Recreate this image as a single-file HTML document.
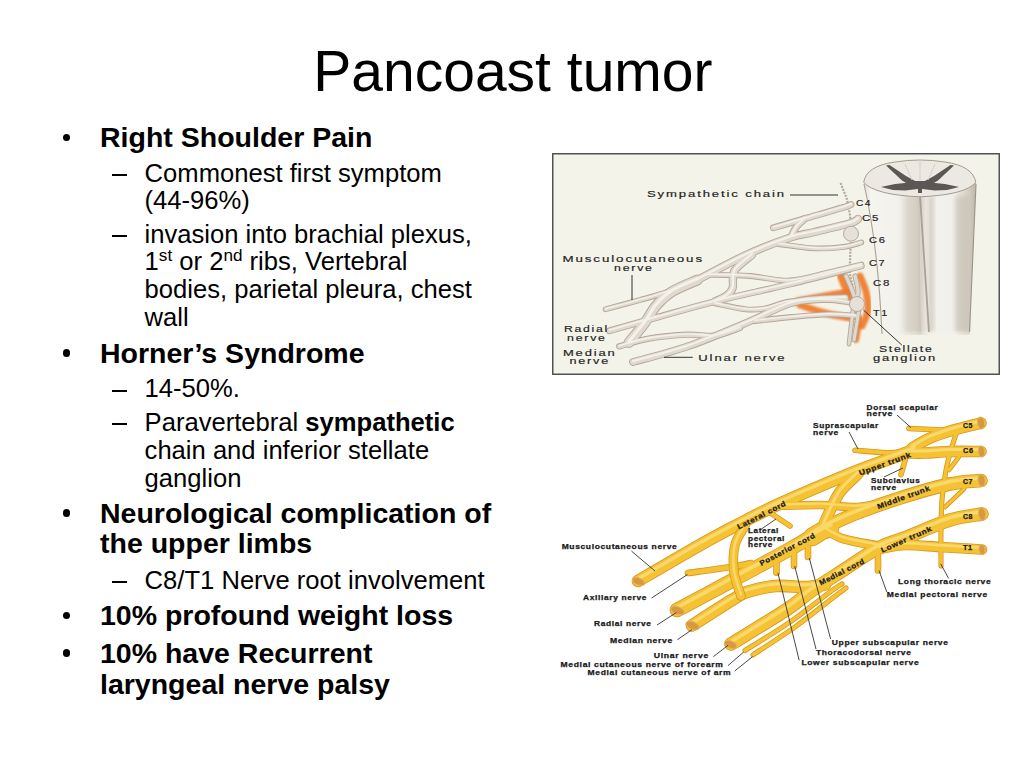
<!DOCTYPE html>
<html><head><meta charset="utf-8">
<title>Pancoast tumor</title>
<style>
html,body{margin:0;padding:0;background:#fff;}
body{width:1024px;height:768px;position:relative;overflow:hidden;font-family:"Liberation Sans",sans-serif;color:#000;}
.t{position:absolute;white-space:nowrap;line-height:1;}
.title{font-size:57px;}
.b1{font-size:28.5px;font-weight:bold;}
.b2{font-size:25.6px;}
.dot{position:absolute;left:62.8px;width:7.4px;height:7.4px;border-radius:50%;background:#000;}
.dash{position:absolute;left:112.3px;width:14.8px;height:2px;background:#000;}
sup{font-size:67%;vertical-align:0;position:relative;top:-0.52em;line-height:0;}
svg{position:absolute;left:0;top:0;}
svg text{font-family:"Liberation Sans",sans-serif;}
.l2 text{font-weight:bold;}
</style></head><body>
<div class="t title" style="left:313.3px;top:42.74px;">Pancoast tumor</div>
<div class="t b1" style="left:100.0px;top:122.87px;">Right Shoulder Pain</div>
<div class="dot" style="top:133.60px;"></div>
<div class="t b2" style="left:144.6px;top:160.62px;">Commonest first symptom</div>
<div class="dash" style="top:174.00px;"></div>
<div class="t b2" style="left:144.6px;top:187.62px;">(44-96%)</div>
<div class="t b2" style="left:144.6px;top:221.82px;">invasion into brachial plexus,</div>
<div class="dash" style="top:235.20px;"></div>
<div class="t b2" style="left:144.6px;top:249.32px;">1<sup>st</sup> or 2<sup>nd</sup> ribs, Vertebral</div>
<div class="t b2" style="left:144.6px;top:277.12px;">bodies, parietal pleura, chest</div>
<div class="t b2" style="left:144.6px;top:304.72px;">wall</div>
<div class="t b1" style="left:100.0px;top:338.67px;">Horner’s Syndrome</div>
<div class="dot" style="top:349.40px;"></div>
<div class="t b2" style="left:144.6px;top:376.32px;">14-50%.</div>
<div class="dash" style="top:389.70px;"></div>
<div class="t b2" style="left:144.6px;top:409.92px;">Paravertebral <b>sympathetic</b></div>
<div class="dash" style="top:423.30px;"></div>
<div class="t b2" style="left:144.6px;top:437.87px;">chain and inferior stellate</div>
<div class="t b2" style="left:144.6px;top:466.02px;">ganglion</div>
<div class="t b1" style="left:100.0px;top:498.67px;">Neurological complication of</div>
<div class="dot" style="top:509.40px;"></div>
<div class="t b1" style="left:100.0px;top:529.37px;">the upper limbs</div>
<div class="t b2" style="left:144.6px;top:567.82px;">C8/T1 Nerve root involvement</div>
<div class="dash" style="top:581.20px;"></div>
<div class="t b1" style="left:100.0px;top:601.37px;">10% profound weight loss</div>
<div class="dot" style="top:612.10px;"></div>
<div class="t b1" style="left:100.0px;top:638.67px;">10% have Recurrent</div>
<div class="dot" style="top:649.40px;"></div>
<div class="t b1" style="left:100.0px;top:669.77px;">laryngeal nerve palsy</div>
<svg width="1024" height="768" viewBox="0 0 1024 768">
<defs>
<linearGradient id="cordL" x1="0" x2="1" y1="0" y2="0">
<stop offset="0" stop-color="#e4dfd5"/><stop offset="0.12" stop-color="#f6f4ef"/><stop offset="0.6" stop-color="#f3f1ec"/><stop offset="0.88" stop-color="#dcd6cb"/><stop offset="1" stop-color="#c9c2b6"/>
</linearGradient>
<linearGradient id="cordR" x1="0" x2="1" y1="0" y2="0">
<stop offset="0" stop-color="#d2cbbf"/><stop offset="0.15" stop-color="#f4f2ed"/><stop offset="0.62" stop-color="#f1efea"/><stop offset="0.86" stop-color="#d6cfc3"/><stop offset="1" stop-color="#bdb6aa"/>
</linearGradient>
<linearGradient id="fadeB" x1="0" x2="0" y1="0" y2="1">
<stop offset="0.75" stop-color="#f3f3e9" stop-opacity="0"/><stop offset="1" stop-color="#f3f3e9" stop-opacity="1"/>
</linearGradient>
<filter id="blur2" x="-20%" y="-20%" width="140%" height="140%"><feGaussianBlur stdDeviation="2.2"/></filter>
<filter id="blur15" x="-30%" y="-30%" width="160%" height="160%"><feGaussianBlur stdDeviation="1.3"/></filter>
<filter id="blur1"><feGaussianBlur stdDeviation="0.6"/></filter>
</defs>
<!-- image 1 frame -->
<rect x="552.75" y="153.75" width="446.5" height="220.5" fill="#f3f3e9" stroke="#484848" stroke-width="1.4"/>
<!-- spinal cord -->
<g>
<path d="M864,182 Q878,245 882,335 L921,335 L920,196 Q890,194 864,182 Z" fill="url(#cordL)"/>
<path d="M920,196 L921,335 L969.5,335 L976,182 Q950,194 920,196 Z" fill="url(#cordR)"/>
<rect x="905" y="196" width="12" height="136" fill="#cfc9bd" opacity="0.45" filter="url(#blur2)"/>
<rect x="928" y="196" width="6" height="136" fill="#b9b2a5" opacity="0.5" filter="url(#blur2)"/>
<rect x="955" y="196" width="14" height="136" fill="#c2bbae" opacity="0.55" filter="url(#blur2)"/>
<rect x="862" y="300" width="118" height="40" fill="url(#fadeB)"/>
<path d="M864,184 Q878,245 882,334" stroke="#a8a094" stroke-width="1.1" fill="none"/>
<path d="M976,184 L969.5,332" stroke="#9a9388" stroke-width="1.1" fill="none"/>
<path d="M920,196 L929,332" stroke="#a8a196" stroke-width="1.8" fill="none" filter="url(#blur1)"/>
<path d="M863.7,182.4 Q866,166 895,162 Q920,158 945,162 Q973,166 975.8,182.4 Q965,195 920,196.8 Q875,195 863.7,182.4 Z" fill="#ece9e3" stroke="#a39b90" stroke-width="1"/>
<g fill="#5c5754" filter="url(#blur1)">
<path d="M886,165.5 L889.5,165 L906,176 L917,182 L912,186.5 L902,180.5 Z"/>
<path d="M881,187 L895,184 L910,182.5 L917,183 L918,189 L905,190.5 L893,190 Z"/>
<path d="M954,165.5 L950.5,165 L934,176 L923,182 L928,186.5 L938,180.5 Z"/>
<path d="M959,187 L945,184 L930,182.5 L923,183 L922,189 L935,190.5 L947,190 Z"/>
<path d="M912,181 L928,181 L923,188 L917,188 Z"/>
<rect x="918" y="183" width="4" height="10"/>
</g>
<path d="M905,164 L912,180 M920,160 L920,180 M935,164 L928,180" stroke="#d6d0c6" stroke-width="1" fill="none"/>
</g>
<!-- sympathetic chain -->
<path d="M840.5,183 L846.6,198 L850,215 L851,234 L849.6,273 L857,304 L849.6,341" stroke="#b3a99e" stroke-width="2.2" fill="none" stroke-dasharray="2 1.2"/>
<path d="M798.0,301.0 C802.5,300.2 816.7,297.5 825.0,296.0 C833.3,294.5 844.2,292.7 848.0,292.0" stroke="#f07828" stroke-width="7.0" fill="none" stroke-linecap="round" opacity="0.9" filter="url(#blur15)"/>
<path d="M800.0,305.0 C804.2,306.3 816.7,310.8 825.0,313.0 C833.3,315.2 845.8,317.2 850.0,318.0" stroke="#f07828" stroke-width="7.0" fill="none" stroke-linecap="round" opacity="0.9" filter="url(#blur15)"/>
<path d="M841.0,276.0 C841.8,278.0 844.2,284.0 846.0,288.0 C847.8,292.0 851.0,298.0 852.0,300.0" stroke="#f07828" stroke-width="8.0" fill="none" stroke-linecap="round" opacity="0.9" filter="url(#blur15)"/>
<path d="M860.0,276.0 C861.0,278.7 864.7,286.3 866.0,292.0 C867.3,297.7 868.7,304.3 868.0,310.0 C867.3,315.7 863.0,323.3 862.0,326.0" stroke="#f07828" stroke-width="7.0" fill="none" stroke-linecap="round" opacity="0.9" filter="url(#blur15)"/>
<path d="M845.0,316.0 L845.0,342.0" stroke="#f07828" stroke-width="8.0" fill="none" stroke-linecap="round" opacity="0.9" filter="url(#blur15)"/>
<path d="M860.0,318.0 L856.0,340.0" stroke="#f07828" stroke-width="6.0" fill="none" stroke-linecap="round" opacity="0.9" filter="url(#blur15)"/>
<path d="M773.4,227.8 C779.2,226.1 796.8,221.0 808.5,217.6 C820.2,214.2 836.6,209.5 843.7,207.3 C850.8,205.1 849.8,205.0 851.0,204.5" stroke="#b3a697" stroke-width="6.8" fill="none" stroke-linecap="round" stroke-linejoin="round"/>
<path d="M805.0,218.5 C803.6,219.8 799.1,223.4 796.8,226.4 C794.5,229.4 792.0,234.9 791.0,236.6" stroke="#b3a697" stroke-width="7.3" fill="none" stroke-linecap="round" stroke-linejoin="round"/>
<path d="M605.6,309.3 C611.3,307.8 629.6,302.9 640.0,300.0 C650.4,297.1 658.5,295.0 668.0,291.7 C677.5,288.4 692.2,281.9 697.0,280.0" stroke="#b3a697" stroke-width="5.8" fill="none" stroke-linecap="round" stroke-linejoin="round"/>
<path d="M697.4,280.0 C705.5,275.8 730.6,262.1 746.0,255.0 C761.4,247.9 778.6,241.4 790.0,237.6 C801.4,233.8 804.5,234.4 814.4,232.0 C824.3,229.6 842.3,225.6 849.6,223.4 C856.9,221.2 856.6,219.7 858.0,219.0" stroke="#b3a697" stroke-width="8.3" fill="none" stroke-linecap="round" stroke-linejoin="round"/>
<path d="M779.0,244.0 C784.9,244.7 803.6,247.8 814.4,248.3 C825.2,248.8 835.9,247.9 843.7,246.9 C851.5,245.9 858.4,243.2 861.3,242.5" stroke="#b3a697" stroke-width="5.8" fill="none" stroke-linecap="round" stroke-linejoin="round"/>
<path d="M707.0,274.7 C714.2,274.9 736.2,275.0 750.0,276.0 C763.8,277.0 776.7,281.2 790.0,280.5 C803.3,279.8 818.1,274.7 830.0,272.0 C841.9,269.3 856.1,265.8 861.3,264.5" stroke="#b3a697" stroke-width="5.8" fill="none" stroke-linecap="round" stroke-linejoin="round"/>
<path d="M609.5,330.8 C617.6,328.5 640.8,321.9 658.4,317.0 C676.0,312.1 693.1,307.0 715.0,301.5 C736.9,296.0 765.6,289.9 790.0,284.0 C814.4,278.1 849.4,269.0 861.3,266.0" stroke="#b3a697" stroke-width="6.8" fill="none" stroke-linecap="round" stroke-linejoin="round"/>
<path d="M715.0,303.4 C720.2,304.4 737.5,308.5 746.0,309.3 C754.5,310.1 758.5,309.6 765.8,308.3 C773.1,307.0 779.3,302.9 790.0,301.5 C800.7,300.1 818.8,299.6 830.0,300.0 C841.2,300.4 852.5,303.3 857.0,304.0" stroke="#b3a697" stroke-width="5.8" fill="none" stroke-linecap="round" stroke-linejoin="round"/>
<path d="M619.3,346.4 C624.2,345.1 637.2,340.6 648.6,338.6 C660.0,336.7 676.6,335.2 687.7,334.7 C698.8,334.2 706.3,336.8 715.0,335.7 C723.7,334.6 735.8,329.3 740.0,328.0" stroke="#b3a697" stroke-width="6.3" fill="none" stroke-linecap="round" stroke-linejoin="round"/>
<path d="M633.0,362.0 C642.1,359.4 668.9,352.9 687.7,346.4 C706.5,339.9 729.0,330.2 746.0,323.0 C763.0,315.8 777.7,307.4 790.0,303.4 C802.3,299.4 810.8,299.9 820.0,299.0 C829.2,298.1 840.8,298.2 845.0,298.0" stroke="#b3a697" stroke-width="7.8" fill="none" stroke-linecap="round" stroke-linejoin="round"/>
<path d="M755.0,321.0 C761.2,320.3 779.7,318.1 792.0,317.0 C804.3,315.9 818.4,314.5 829.0,314.3 C839.6,314.1 851.0,315.5 855.4,315.7" stroke="#b3a697" stroke-width="5.8" fill="none" stroke-linecap="round" stroke-linejoin="round"/>
<path d="M752.0,255.0 C749.1,257.6 737.7,265.3 734.5,270.8 C731.3,276.3 733.9,283.9 732.6,288.0 C731.3,292.1 729.6,293.4 726.7,295.6 C723.8,297.9 717.0,300.5 715.0,301.5" stroke="#b3a697" stroke-width="8.3" fill="none" stroke-linecap="round" stroke-linejoin="round"/>
<path d="M629.0,342.5 C631.6,339.2 640.1,329.2 644.7,323.0 C649.3,316.8 651.9,310.6 656.4,305.4 C660.9,300.2 665.2,295.9 672.0,291.7 C678.8,287.5 693.2,281.9 697.4,280.0" stroke="#b3a697" stroke-width="10.8" fill="none" stroke-linecap="round" stroke-linejoin="round"/>
<path d="M846.0,276.0 C847.0,278.3 850.2,285.3 852.0,290.0 C853.8,294.7 856.2,301.7 857.0,304.0" stroke="#b3a697" stroke-width="5.3" fill="none" stroke-linecap="round" stroke-linejoin="round"/>
<path d="M855.0,276.0 C855.5,278.3 857.7,286.0 858.0,290.0 C858.3,294.0 857.2,298.3 857.0,300.0" stroke="#b3a697" stroke-width="5.3" fill="none" stroke-linecap="round" stroke-linejoin="round"/>
<path d="M853.0,310.0 L849.0,344.0" stroke="#b3a697" stroke-width="4.8" fill="none" stroke-linecap="round" stroke-linejoin="round"/>
<path d="M859.0,310.0 L854.0,340.0" stroke="#b3a697" stroke-width="4.8" fill="none" stroke-linecap="round" stroke-linejoin="round"/>
<path d="M773.4,227.8 C779.2,226.1 796.8,221.0 808.5,217.6 C820.2,214.2 836.6,209.5 843.7,207.3 C850.8,205.1 849.8,205.0 851.0,204.5" stroke="#e0d9cf" stroke-width="5.0" fill="none" stroke-linecap="round" stroke-linejoin="round"/>
<path d="M805.0,218.5 C803.6,219.8 799.1,223.4 796.8,226.4 C794.5,229.4 792.0,234.9 791.0,236.6" stroke="#e0d9cf" stroke-width="5.5" fill="none" stroke-linecap="round" stroke-linejoin="round"/>
<path d="M605.6,309.3 C611.3,307.8 629.6,302.9 640.0,300.0 C650.4,297.1 658.5,295.0 668.0,291.7 C677.5,288.4 692.2,281.9 697.0,280.0" stroke="#e0d9cf" stroke-width="4.0" fill="none" stroke-linecap="round" stroke-linejoin="round"/>
<path d="M697.4,280.0 C705.5,275.8 730.6,262.1 746.0,255.0 C761.4,247.9 778.6,241.4 790.0,237.6 C801.4,233.8 804.5,234.4 814.4,232.0 C824.3,229.6 842.3,225.6 849.6,223.4 C856.9,221.2 856.6,219.7 858.0,219.0" stroke="#e0d9cf" stroke-width="6.5" fill="none" stroke-linecap="round" stroke-linejoin="round"/>
<path d="M779.0,244.0 C784.9,244.7 803.6,247.8 814.4,248.3 C825.2,248.8 835.9,247.9 843.7,246.9 C851.5,245.9 858.4,243.2 861.3,242.5" stroke="#e0d9cf" stroke-width="4.0" fill="none" stroke-linecap="round" stroke-linejoin="round"/>
<path d="M707.0,274.7 C714.2,274.9 736.2,275.0 750.0,276.0 C763.8,277.0 776.7,281.2 790.0,280.5 C803.3,279.8 818.1,274.7 830.0,272.0 C841.9,269.3 856.1,265.8 861.3,264.5" stroke="#e0d9cf" stroke-width="4.0" fill="none" stroke-linecap="round" stroke-linejoin="round"/>
<path d="M609.5,330.8 C617.6,328.5 640.8,321.9 658.4,317.0 C676.0,312.1 693.1,307.0 715.0,301.5 C736.9,296.0 765.6,289.9 790.0,284.0 C814.4,278.1 849.4,269.0 861.3,266.0" stroke="#e0d9cf" stroke-width="5.0" fill="none" stroke-linecap="round" stroke-linejoin="round"/>
<path d="M715.0,303.4 C720.2,304.4 737.5,308.5 746.0,309.3 C754.5,310.1 758.5,309.6 765.8,308.3 C773.1,307.0 779.3,302.9 790.0,301.5 C800.7,300.1 818.8,299.6 830.0,300.0 C841.2,300.4 852.5,303.3 857.0,304.0" stroke="#e0d9cf" stroke-width="4.0" fill="none" stroke-linecap="round" stroke-linejoin="round"/>
<path d="M619.3,346.4 C624.2,345.1 637.2,340.6 648.6,338.6 C660.0,336.7 676.6,335.2 687.7,334.7 C698.8,334.2 706.3,336.8 715.0,335.7 C723.7,334.6 735.8,329.3 740.0,328.0" stroke="#e0d9cf" stroke-width="4.5" fill="none" stroke-linecap="round" stroke-linejoin="round"/>
<path d="M633.0,362.0 C642.1,359.4 668.9,352.9 687.7,346.4 C706.5,339.9 729.0,330.2 746.0,323.0 C763.0,315.8 777.7,307.4 790.0,303.4 C802.3,299.4 810.8,299.9 820.0,299.0 C829.2,298.1 840.8,298.2 845.0,298.0" stroke="#e0d9cf" stroke-width="6.0" fill="none" stroke-linecap="round" stroke-linejoin="round"/>
<path d="M755.0,321.0 C761.2,320.3 779.7,318.1 792.0,317.0 C804.3,315.9 818.4,314.5 829.0,314.3 C839.6,314.1 851.0,315.5 855.4,315.7" stroke="#e0d9cf" stroke-width="4.0" fill="none" stroke-linecap="round" stroke-linejoin="round"/>
<path d="M752.0,255.0 C749.1,257.6 737.7,265.3 734.5,270.8 C731.3,276.3 733.9,283.9 732.6,288.0 C731.3,292.1 729.6,293.4 726.7,295.6 C723.8,297.9 717.0,300.5 715.0,301.5" stroke="#e0d9cf" stroke-width="6.5" fill="none" stroke-linecap="round" stroke-linejoin="round"/>
<path d="M629.0,342.5 C631.6,339.2 640.1,329.2 644.7,323.0 C649.3,316.8 651.9,310.6 656.4,305.4 C660.9,300.2 665.2,295.9 672.0,291.7 C678.8,287.5 693.2,281.9 697.4,280.0" stroke="#e0d9cf" stroke-width="9.0" fill="none" stroke-linecap="round" stroke-linejoin="round"/>
<path d="M846.0,276.0 C847.0,278.3 850.2,285.3 852.0,290.0 C853.8,294.7 856.2,301.7 857.0,304.0" stroke="#e0d9cf" stroke-width="3.5" fill="none" stroke-linecap="round" stroke-linejoin="round"/>
<path d="M855.0,276.0 C855.5,278.3 857.7,286.0 858.0,290.0 C858.3,294.0 857.2,298.3 857.0,300.0" stroke="#e0d9cf" stroke-width="3.5" fill="none" stroke-linecap="round" stroke-linejoin="round"/>
<path d="M853.0,310.0 L849.0,344.0" stroke="#e0d9cf" stroke-width="3.0" fill="none" stroke-linecap="round" stroke-linejoin="round"/>
<path d="M859.0,310.0 L854.0,340.0" stroke="#e0d9cf" stroke-width="3.0" fill="none" stroke-linecap="round" stroke-linejoin="round"/>
<path d="M773.4,227.8 C779.2,226.1 796.8,221.0 808.5,217.6 C820.2,214.2 836.6,209.5 843.7,207.3 C850.8,205.1 849.8,205.0 851.0,204.5" stroke="#f4f1eb" stroke-width="1.8" fill="none" stroke-linecap="round" stroke-linejoin="round" transform="translate(0,-0.8)"/>
<path d="M805.0,218.5 C803.6,219.8 799.1,223.4 796.8,226.4 C794.5,229.4 792.0,234.9 791.0,236.6" stroke="#f4f1eb" stroke-width="1.9" fill="none" stroke-linecap="round" stroke-linejoin="round" transform="translate(0,-0.8)"/>
<path d="M605.6,309.3 C611.3,307.8 629.6,302.9 640.0,300.0 C650.4,297.1 658.5,295.0 668.0,291.7 C677.5,288.4 692.2,281.9 697.0,280.0" stroke="#f4f1eb" stroke-width="1.4" fill="none" stroke-linecap="round" stroke-linejoin="round" transform="translate(0,-0.6)"/>
<path d="M697.4,280.0 C705.5,275.8 730.6,262.1 746.0,255.0 C761.4,247.9 778.6,241.4 790.0,237.6 C801.4,233.8 804.5,234.4 814.4,232.0 C824.3,229.6 842.3,225.6 849.6,223.4 C856.9,221.2 856.6,219.7 858.0,219.0" stroke="#f4f1eb" stroke-width="2.3" fill="none" stroke-linecap="round" stroke-linejoin="round" transform="translate(0,-1.0)"/>
<path d="M779.0,244.0 C784.9,244.7 803.6,247.8 814.4,248.3 C825.2,248.8 835.9,247.9 843.7,246.9 C851.5,245.9 858.4,243.2 861.3,242.5" stroke="#f4f1eb" stroke-width="1.4" fill="none" stroke-linecap="round" stroke-linejoin="round" transform="translate(0,-0.6)"/>
<path d="M707.0,274.7 C714.2,274.9 736.2,275.0 750.0,276.0 C763.8,277.0 776.7,281.2 790.0,280.5 C803.3,279.8 818.1,274.7 830.0,272.0 C841.9,269.3 856.1,265.8 861.3,264.5" stroke="#f4f1eb" stroke-width="1.4" fill="none" stroke-linecap="round" stroke-linejoin="round" transform="translate(0,-0.6)"/>
<path d="M609.5,330.8 C617.6,328.5 640.8,321.9 658.4,317.0 C676.0,312.1 693.1,307.0 715.0,301.5 C736.9,296.0 765.6,289.9 790.0,284.0 C814.4,278.1 849.4,269.0 861.3,266.0" stroke="#f4f1eb" stroke-width="1.8" fill="none" stroke-linecap="round" stroke-linejoin="round" transform="translate(0,-0.8)"/>
<path d="M715.0,303.4 C720.2,304.4 737.5,308.5 746.0,309.3 C754.5,310.1 758.5,309.6 765.8,308.3 C773.1,307.0 779.3,302.9 790.0,301.5 C800.7,300.1 818.8,299.6 830.0,300.0 C841.2,300.4 852.5,303.3 857.0,304.0" stroke="#f4f1eb" stroke-width="1.4" fill="none" stroke-linecap="round" stroke-linejoin="round" transform="translate(0,-0.6)"/>
<path d="M619.3,346.4 C624.2,345.1 637.2,340.6 648.6,338.6 C660.0,336.7 676.6,335.2 687.7,334.7 C698.8,334.2 706.3,336.8 715.0,335.7 C723.7,334.6 735.8,329.3 740.0,328.0" stroke="#f4f1eb" stroke-width="1.6" fill="none" stroke-linecap="round" stroke-linejoin="round" transform="translate(0,-0.7)"/>
<path d="M633.0,362.0 C642.1,359.4 668.9,352.9 687.7,346.4 C706.5,339.9 729.0,330.2 746.0,323.0 C763.0,315.8 777.7,307.4 790.0,303.4 C802.3,299.4 810.8,299.9 820.0,299.0 C829.2,298.1 840.8,298.2 845.0,298.0" stroke="#f4f1eb" stroke-width="2.1" fill="none" stroke-linecap="round" stroke-linejoin="round" transform="translate(0,-0.9)"/>
<path d="M755.0,321.0 C761.2,320.3 779.7,318.1 792.0,317.0 C804.3,315.9 818.4,314.5 829.0,314.3 C839.6,314.1 851.0,315.5 855.4,315.7" stroke="#f4f1eb" stroke-width="1.4" fill="none" stroke-linecap="round" stroke-linejoin="round" transform="translate(0,-0.6)"/>
<path d="M752.0,255.0 C749.1,257.6 737.7,265.3 734.5,270.8 C731.3,276.3 733.9,283.9 732.6,288.0 C731.3,292.1 729.6,293.4 726.7,295.6 C723.8,297.9 717.0,300.5 715.0,301.5" stroke="#f4f1eb" stroke-width="2.3" fill="none" stroke-linecap="round" stroke-linejoin="round" transform="translate(0,-1.0)"/>
<path d="M629.0,342.5 C631.6,339.2 640.1,329.2 644.7,323.0 C649.3,316.8 651.9,310.6 656.4,305.4 C660.9,300.2 665.2,295.9 672.0,291.7 C678.8,287.5 693.2,281.9 697.4,280.0" stroke="#f4f1eb" stroke-width="3.1" fill="none" stroke-linecap="round" stroke-linejoin="round" transform="translate(0,-1.3)"/>




<circle cx="851" cy="233.7" r="7.5" fill="#e6e0d8" stroke="#b4a99c" stroke-width="1"/>
<circle cx="857" cy="304" r="7.5" fill="#e6e0d8" stroke="#b4a99c" stroke-width="1"/>
<g class="l1">
<line x1="790.0" y1="195.0" x2="838.0" y2="195.0" stroke="#333" stroke-width="1"/>
<line x1="632.0" y1="275.0" x2="632.0" y2="300.0" stroke="#333" stroke-width="1"/>
<line x1="664.0" y1="357.3" x2="692.8" y2="357.3" stroke="#333" stroke-width="1"/>
<line x1="863.5" y1="310.0" x2="901.8" y2="345.0" stroke="#333" stroke-width="1"/>
<text x="647.0" y="197.0" font-size="8.4" letter-spacing="1.2" textLength="139.0" lengthAdjust="spacingAndGlyphs" fill="#1e1e1e" stroke="#1e1e1e" stroke-width="0.15">Sympathetic chain</text>
<text x="856.0" y="205.5" font-size="8.4" letter-spacing="1.2" textLength="16.0" lengthAdjust="spacingAndGlyphs" fill="#1e1e1e" stroke="#1e1e1e" stroke-width="0.15">C4</text>
<text x="862.0" y="221.0" font-size="8.4" letter-spacing="1.2" textLength="18.0" lengthAdjust="spacingAndGlyphs" fill="#1e1e1e" stroke="#1e1e1e" stroke-width="0.15">C5</text>
<text x="869.0" y="243.0" font-size="8.4" letter-spacing="1.2" textLength="17.5" lengthAdjust="spacingAndGlyphs" fill="#1e1e1e" stroke="#1e1e1e" stroke-width="0.15">C6</text>
<text x="869.0" y="265.5" font-size="8.4" letter-spacing="1.2" textLength="17.0" lengthAdjust="spacingAndGlyphs" fill="#1e1e1e" stroke="#1e1e1e" stroke-width="0.15">C7</text>
<text x="873.0" y="286.0" font-size="8.4" letter-spacing="1.2" textLength="18.0" lengthAdjust="spacingAndGlyphs" fill="#1e1e1e" stroke="#1e1e1e" stroke-width="0.15">C8</text>
<text x="873.0" y="315.5" font-size="8.4" letter-spacing="1.2" textLength="15.7" lengthAdjust="spacingAndGlyphs" fill="#1e1e1e" stroke="#1e1e1e" stroke-width="0.15">T1</text>
<text x="879.0" y="351.6" font-size="8.4" letter-spacing="1.2" textLength="54.5" lengthAdjust="spacingAndGlyphs" fill="#1e1e1e" stroke="#1e1e1e" stroke-width="0.15">Stellate</text>
<text x="873.0" y="360.5" font-size="8.4" letter-spacing="1.2" textLength="64.0" lengthAdjust="spacingAndGlyphs" fill="#1e1e1e" stroke="#1e1e1e" stroke-width="0.15">ganglion</text>
<text x="562.5" y="262.4" font-size="8.4" letter-spacing="1.2" textLength="141.5" lengthAdjust="spacingAndGlyphs" fill="#1e1e1e" stroke="#1e1e1e" stroke-width="0.15">Musculocutaneous</text>
<text x="614.0" y="271.0" font-size="8.4" letter-spacing="1.2" textLength="39.7" lengthAdjust="spacingAndGlyphs" fill="#1e1e1e" stroke="#1e1e1e" stroke-width="0.15">nerve</text>
<text x="564.0" y="332.0" font-size="8.4" letter-spacing="1.2" textLength="45.0" lengthAdjust="spacingAndGlyphs" fill="#1e1e1e" stroke="#1e1e1e" stroke-width="0.15">Radial</text>
<text x="567.0" y="340.7" font-size="8.4" letter-spacing="1.2" textLength="39.7" lengthAdjust="spacingAndGlyphs" fill="#1e1e1e" stroke="#1e1e1e" stroke-width="0.15">nerve</text>
<text x="563.0" y="356.0" font-size="8.4" letter-spacing="1.2" textLength="53.5" lengthAdjust="spacingAndGlyphs" fill="#1e1e1e" stroke="#1e1e1e" stroke-width="0.15">Median</text>
<text x="569.5" y="364.0" font-size="8.4" letter-spacing="1.2" textLength="40.5" lengthAdjust="spacingAndGlyphs" fill="#1e1e1e" stroke="#1e1e1e" stroke-width="0.15">nerve</text>
<text x="698.3" y="361.2" font-size="8.4" letter-spacing="1.2" textLength="88.2" lengthAdjust="spacingAndGlyphs" fill="#1e1e1e" stroke="#1e1e1e" stroke-width="0.15">Ulnar nerve</text>
</g>
<!-- image 2 -->
<g class="l2">
<path d="M981.0,423.0 C975.8,424.3 958.8,428.3 950.0,431.0 C941.2,433.7 934.3,436.2 928.0,439.0 C921.7,441.8 914.7,446.5 912.0,448.0" stroke="#d9961c" stroke-width="11.6" fill="none" stroke-linecap="round" stroke-linejoin="round"/>
<path d="M981.0,451.5 C975.8,451.5 959.3,451.2 950.0,451.5 C940.7,451.8 931.7,452.8 925.0,453.0 C918.3,453.2 912.5,453.0 910.0,453.0" stroke="#d9961c" stroke-width="11.6" fill="none" stroke-linecap="round" stroke-linejoin="round"/>
<path d="M981.0,480.5 C975.8,481.1 963.0,481.2 950.0,484.0 C937.0,486.8 918.0,492.3 903.0,497.0 C888.0,501.7 871.8,507.5 860.0,512.0 C848.2,516.5 838.5,521.0 832.0,524.0 C825.5,527.0 822.8,529.0 821.0,530.0" stroke="#d9961c" stroke-width="13.6" fill="none" stroke-linecap="round" stroke-linejoin="round"/>
<path d="M982.0,514.0 C976.7,515.0 962.5,516.2 950.0,520.0 C937.5,523.8 919.0,532.3 907.0,537.0 C895.0,541.7 888.8,542.3 878.0,548.0 C867.2,553.7 853.3,563.7 842.0,571.0 C830.7,578.3 819.3,585.5 810.0,592.0 C800.7,598.5 799.2,601.3 786.0,610.0 C772.8,618.7 740.2,638.3 731.0,644.0" stroke="#d9961c" stroke-width="13.6" fill="none" stroke-linecap="round" stroke-linejoin="round"/>
<path d="M982.0,549.5 C975.0,549.1 952.8,547.8 940.0,547.0 C927.2,546.2 915.0,544.7 905.0,545.0 C895.0,545.3 884.2,548.3 880.0,549.0" stroke="#d9961c" stroke-width="10.6" fill="none" stroke-linecap="round" stroke-linejoin="round"/>
<path d="M914.0,450.0 C906.7,452.7 882.8,461.2 870.0,466.0 C857.2,470.8 852.3,472.6 837.0,479.0 C821.7,485.4 794.3,497.0 778.0,504.5 C761.7,512.0 752.0,517.2 739.0,524.0 C726.0,530.8 716.8,535.5 700.0,545.0 C683.2,554.5 648.3,575.0 638.0,581.0" stroke="#d9961c" stroke-width="12.6" fill="none" stroke-linecap="round" stroke-linejoin="round"/>
<path d="M858.0,474.0 C855.0,477.0 845.0,485.2 840.0,492.0 C835.0,498.8 831.2,508.3 828.0,515.0 C824.8,521.7 822.2,529.2 821.0,532.0" stroke="#d9961c" stroke-width="11.6" fill="none" stroke-linecap="round" stroke-linejoin="round"/>
<path d="M776.0,506.0 C783.3,505.8 806.3,504.8 820.0,505.0 C833.7,505.2 847.2,507.5 858.0,507.0 C868.8,506.5 880.5,502.8 885.0,502.0" stroke="#d9961c" stroke-width="8.6" fill="none" stroke-linecap="round" stroke-linejoin="round"/>
<path d="M688.0,573.0 C695.2,572.0 720.5,568.7 731.0,567.0 C741.5,565.3 747.7,563.7 751.0,563.0" stroke="#d9961c" stroke-width="6.6" fill="none" stroke-linecap="round" stroke-linejoin="round"/>
<path d="M826.0,528.0 C820.0,531.5 805.2,540.5 790.0,549.0 C774.8,557.5 753.8,568.8 735.0,579.0 C716.2,589.2 686.7,604.8 677.0,610.0" stroke="#d9961c" stroke-width="14.6" fill="none" stroke-linecap="round" stroke-linejoin="round"/>
<path d="M812.0,537.0 C813.7,536.0 819.0,532.5 822.0,531.0 C825.0,529.5 828.7,528.5 830.0,528.0" stroke="#d9961c" stroke-width="18.6" fill="none" stroke-linecap="round" stroke-linejoin="round"/>
<path d="M826.0,530.0 C829.0,531.5 835.3,536.3 844.0,539.0 C852.7,541.7 872.3,544.8 878.0,546.0" stroke="#d9961c" stroke-width="9.6" fill="none" stroke-linecap="round" stroke-linejoin="round"/>
<path d="M825.0,584.5 C821.7,584.9 813.2,586.8 805.0,587.0 C796.8,587.2 785.7,585.2 776.0,586.0 C766.3,586.8 754.3,589.7 747.0,592.0 C739.7,594.3 741.2,594.4 732.0,600.0 C722.8,605.6 698.7,621.2 692.0,625.5" stroke="#d9961c" stroke-width="12.6" fill="none" stroke-linecap="round" stroke-linejoin="round"/>
<path d="M842.0,584.0 C840.0,585.3 838.7,585.7 830.0,592.0 C821.3,598.3 804.2,612.2 790.0,622.0 C775.8,631.8 752.5,645.8 745.0,650.5" stroke="#d9961c" stroke-width="5.1" fill="none" stroke-linecap="round" stroke-linejoin="round"/>
<path d="M846.0,588.0 C844.0,589.5 842.5,590.5 834.0,597.0 C825.5,603.5 808.5,617.4 795.0,627.0 C781.5,636.6 760.0,650.2 753.0,654.8" stroke="#d9961c" stroke-width="5.1" fill="none" stroke-linecap="round" stroke-linejoin="round"/>
<path d="M776.5,559.0 L776.5,572.7" stroke="#d9961c" stroke-width="6.6" fill="none" stroke-linecap="round" stroke-linejoin="round"/>
<path d="M794.0,553.0 L794.0,566.0" stroke="#d9961c" stroke-width="6.6" fill="none" stroke-linecap="round" stroke-linejoin="round"/>
<path d="M808.0,547.0 L808.0,557.0" stroke="#d9961c" stroke-width="6.6" fill="none" stroke-linecap="round" stroke-linejoin="round"/>
<path d="M878.0,556.0 L878.0,570.5" stroke="#d9961c" stroke-width="6.6" fill="none" stroke-linecap="round" stroke-linejoin="round"/>
<path d="M772.0,514.0 L790.0,526.0" stroke="#d9961c" stroke-width="5.6" fill="none" stroke-linecap="round" stroke-linejoin="round"/>
<path d="M906.0,457.0 L901.0,474.6" stroke="#d9961c" stroke-width="5.6" fill="none" stroke-linecap="round" stroke-linejoin="round"/>
<path d="M855.0,450.3 C860.3,450.7 878.5,452.6 887.0,452.7 C895.5,452.8 902.8,451.3 906.0,451.0" stroke="#d9961c" stroke-width="5.6" fill="none" stroke-linecap="round" stroke-linejoin="round"/>
<path d="M909.0,428.5 C914.4,428.8 934.4,429.6 941.6,430.0 C948.8,430.4 950.3,430.8 952.0,431.0" stroke="#d9961c" stroke-width="5.6" fill="none" stroke-linecap="round" stroke-linejoin="round"/>
<path d="M957.0,431.0 C956.0,434.2 952.8,443.5 951.0,450.0 C949.2,456.5 947.5,461.7 946.0,470.0 C944.5,478.3 942.8,489.8 942.0,500.0 C941.2,510.2 941.2,520.0 941.0,531.0 C940.8,542.0 941.0,560.2 941.0,566.0" stroke="#d9961c" stroke-width="5.1" fill="none" stroke-linecap="round" stroke-linejoin="round"/>
<path d="M958.8,457.0 L949.0,470.0" stroke="#d9961c" stroke-width="4.6" fill="none" stroke-linecap="round" stroke-linejoin="round"/>
<path d="M964.0,489.0 L945.0,507.0" stroke="#d9961c" stroke-width="4.6" fill="none" stroke-linecap="round" stroke-linejoin="round"/>
<path d="M981.0,423.0 C975.8,424.3 958.8,428.3 950.0,431.0 C941.2,433.7 934.3,436.2 928.0,439.0 C921.7,441.8 914.7,446.5 912.0,448.0" stroke="#f5c234" stroke-width="10.0" fill="none" stroke-linecap="round" stroke-linejoin="round"/>
<path d="M981.0,451.5 C975.8,451.5 959.3,451.2 950.0,451.5 C940.7,451.8 931.7,452.8 925.0,453.0 C918.3,453.2 912.5,453.0 910.0,453.0" stroke="#f5c234" stroke-width="10.0" fill="none" stroke-linecap="round" stroke-linejoin="round"/>
<path d="M981.0,480.5 C975.8,481.1 963.0,481.2 950.0,484.0 C937.0,486.8 918.0,492.3 903.0,497.0 C888.0,501.7 871.8,507.5 860.0,512.0 C848.2,516.5 838.5,521.0 832.0,524.0 C825.5,527.0 822.8,529.0 821.0,530.0" stroke="#f5c234" stroke-width="12.0" fill="none" stroke-linecap="round" stroke-linejoin="round"/>
<path d="M982.0,514.0 C976.7,515.0 962.5,516.2 950.0,520.0 C937.5,523.8 919.0,532.3 907.0,537.0 C895.0,541.7 888.8,542.3 878.0,548.0 C867.2,553.7 853.3,563.7 842.0,571.0 C830.7,578.3 819.3,585.5 810.0,592.0 C800.7,598.5 799.2,601.3 786.0,610.0 C772.8,618.7 740.2,638.3 731.0,644.0" stroke="#f5c234" stroke-width="12.0" fill="none" stroke-linecap="round" stroke-linejoin="round"/>
<path d="M982.0,549.5 C975.0,549.1 952.8,547.8 940.0,547.0 C927.2,546.2 915.0,544.7 905.0,545.0 C895.0,545.3 884.2,548.3 880.0,549.0" stroke="#f5c234" stroke-width="9.0" fill="none" stroke-linecap="round" stroke-linejoin="round"/>
<path d="M914.0,450.0 C906.7,452.7 882.8,461.2 870.0,466.0 C857.2,470.8 852.3,472.6 837.0,479.0 C821.7,485.4 794.3,497.0 778.0,504.5 C761.7,512.0 752.0,517.2 739.0,524.0 C726.0,530.8 716.8,535.5 700.0,545.0 C683.2,554.5 648.3,575.0 638.0,581.0" stroke="#f5c234" stroke-width="11.0" fill="none" stroke-linecap="round" stroke-linejoin="round"/>
<path d="M858.0,474.0 C855.0,477.0 845.0,485.2 840.0,492.0 C835.0,498.8 831.2,508.3 828.0,515.0 C824.8,521.7 822.2,529.2 821.0,532.0" stroke="#f5c234" stroke-width="10.0" fill="none" stroke-linecap="round" stroke-linejoin="round"/>
<path d="M776.0,506.0 C783.3,505.8 806.3,504.8 820.0,505.0 C833.7,505.2 847.2,507.5 858.0,507.0 C868.8,506.5 880.5,502.8 885.0,502.0" stroke="#f5c234" stroke-width="7.0" fill="none" stroke-linecap="round" stroke-linejoin="round"/>
<path d="M688.0,573.0 C695.2,572.0 720.5,568.7 731.0,567.0 C741.5,565.3 747.7,563.7 751.0,563.0" stroke="#f5c234" stroke-width="5.0" fill="none" stroke-linecap="round" stroke-linejoin="round"/>
<path d="M826.0,528.0 C820.0,531.5 805.2,540.5 790.0,549.0 C774.8,557.5 753.8,568.8 735.0,579.0 C716.2,589.2 686.7,604.8 677.0,610.0" stroke="#f5c234" stroke-width="13.0" fill="none" stroke-linecap="round" stroke-linejoin="round"/>
<path d="M812.0,537.0 C813.7,536.0 819.0,532.5 822.0,531.0 C825.0,529.5 828.7,528.5 830.0,528.0" stroke="#f5c234" stroke-width="17.0" fill="none" stroke-linecap="round" stroke-linejoin="round"/>
<path d="M826.0,530.0 C829.0,531.5 835.3,536.3 844.0,539.0 C852.7,541.7 872.3,544.8 878.0,546.0" stroke="#f5c234" stroke-width="8.0" fill="none" stroke-linecap="round" stroke-linejoin="round"/>
<path d="M825.0,584.5 C821.7,584.9 813.2,586.8 805.0,587.0 C796.8,587.2 785.7,585.2 776.0,586.0 C766.3,586.8 754.3,589.7 747.0,592.0 C739.7,594.3 741.2,594.4 732.0,600.0 C722.8,605.6 698.7,621.2 692.0,625.5" stroke="#f5c234" stroke-width="11.0" fill="none" stroke-linecap="round" stroke-linejoin="round"/>
<path d="M842.0,584.0 C840.0,585.3 838.7,585.7 830.0,592.0 C821.3,598.3 804.2,612.2 790.0,622.0 C775.8,631.8 752.5,645.8 745.0,650.5" stroke="#f5c234" stroke-width="3.5" fill="none" stroke-linecap="round" stroke-linejoin="round"/>
<path d="M846.0,588.0 C844.0,589.5 842.5,590.5 834.0,597.0 C825.5,603.5 808.5,617.4 795.0,627.0 C781.5,636.6 760.0,650.2 753.0,654.8" stroke="#f5c234" stroke-width="3.5" fill="none" stroke-linecap="round" stroke-linejoin="round"/>
<path d="M776.5,559.0 L776.5,572.7" stroke="#f5c234" stroke-width="5.0" fill="none" stroke-linecap="round" stroke-linejoin="round"/>
<path d="M794.0,553.0 L794.0,566.0" stroke="#f5c234" stroke-width="5.0" fill="none" stroke-linecap="round" stroke-linejoin="round"/>
<path d="M808.0,547.0 L808.0,557.0" stroke="#f5c234" stroke-width="5.0" fill="none" stroke-linecap="round" stroke-linejoin="round"/>
<path d="M878.0,556.0 L878.0,570.5" stroke="#f5c234" stroke-width="5.0" fill="none" stroke-linecap="round" stroke-linejoin="round"/>
<path d="M772.0,514.0 L790.0,526.0" stroke="#f5c234" stroke-width="4.0" fill="none" stroke-linecap="round" stroke-linejoin="round"/>
<path d="M906.0,457.0 L901.0,474.6" stroke="#f5c234" stroke-width="4.0" fill="none" stroke-linecap="round" stroke-linejoin="round"/>
<path d="M855.0,450.3 C860.3,450.7 878.5,452.6 887.0,452.7 C895.5,452.8 902.8,451.3 906.0,451.0" stroke="#f5c234" stroke-width="4.0" fill="none" stroke-linecap="round" stroke-linejoin="round"/>
<path d="M909.0,428.5 C914.4,428.8 934.4,429.6 941.6,430.0 C948.8,430.4 950.3,430.8 952.0,431.0" stroke="#f5c234" stroke-width="4.0" fill="none" stroke-linecap="round" stroke-linejoin="round"/>
<path d="M957.0,431.0 C956.0,434.2 952.8,443.5 951.0,450.0 C949.2,456.5 947.5,461.7 946.0,470.0 C944.5,478.3 942.8,489.8 942.0,500.0 C941.2,510.2 941.2,520.0 941.0,531.0 C940.8,542.0 941.0,560.2 941.0,566.0" stroke="#f5c234" stroke-width="3.5" fill="none" stroke-linecap="round" stroke-linejoin="round"/>
<path d="M958.8,457.0 L949.0,470.0" stroke="#f5c234" stroke-width="3.0" fill="none" stroke-linecap="round" stroke-linejoin="round"/>
<path d="M964.0,489.0 L945.0,507.0" stroke="#f5c234" stroke-width="3.0" fill="none" stroke-linecap="round" stroke-linejoin="round"/>
<path d="M981.0,423.0 C975.8,424.3 958.8,428.3 950.0,431.0 C941.2,433.7 934.3,436.2 928.0,439.0 C921.7,441.8 914.7,446.5 912.0,448.0" stroke="#fad96c" stroke-width="3.0" fill="none" stroke-linecap="round" transform="translate(0,-2.0)"/>
<path d="M981.0,451.5 C975.8,451.5 959.3,451.2 950.0,451.5 C940.7,451.8 931.7,452.8 925.0,453.0 C918.3,453.2 912.5,453.0 910.0,453.0" stroke="#fad96c" stroke-width="3.0" fill="none" stroke-linecap="round" transform="translate(0,-2.0)"/>
<path d="M981.0,480.5 C975.8,481.1 963.0,481.2 950.0,484.0 C937.0,486.8 918.0,492.3 903.0,497.0 C888.0,501.7 871.8,507.5 860.0,512.0 C848.2,516.5 838.5,521.0 832.0,524.0 C825.5,527.0 822.8,529.0 821.0,530.0" stroke="#fad96c" stroke-width="3.6" fill="none" stroke-linecap="round" transform="translate(0,-2.4)"/>
<path d="M982.0,514.0 C976.7,515.0 962.5,516.2 950.0,520.0 C937.5,523.8 919.0,532.3 907.0,537.0 C895.0,541.7 888.8,542.3 878.0,548.0 C867.2,553.7 853.3,563.7 842.0,571.0 C830.7,578.3 819.3,585.5 810.0,592.0 C800.7,598.5 799.2,601.3 786.0,610.0 C772.8,618.7 740.2,638.3 731.0,644.0" stroke="#fad96c" stroke-width="3.6" fill="none" stroke-linecap="round" transform="translate(0,-2.4)"/>
<path d="M982.0,549.5 C975.0,549.1 952.8,547.8 940.0,547.0 C927.2,546.2 915.0,544.7 905.0,545.0 C895.0,545.3 884.2,548.3 880.0,549.0" stroke="#fad96c" stroke-width="2.7" fill="none" stroke-linecap="round" transform="translate(0,-1.8)"/>
<path d="M914.0,450.0 C906.7,452.7 882.8,461.2 870.0,466.0 C857.2,470.8 852.3,472.6 837.0,479.0 C821.7,485.4 794.3,497.0 778.0,504.5 C761.7,512.0 752.0,517.2 739.0,524.0 C726.0,530.8 716.8,535.5 700.0,545.0 C683.2,554.5 648.3,575.0 638.0,581.0" stroke="#fad96c" stroke-width="3.3" fill="none" stroke-linecap="round" transform="translate(0,-2.2)"/>
<path d="M858.0,474.0 C855.0,477.0 845.0,485.2 840.0,492.0 C835.0,498.8 831.2,508.3 828.0,515.0 C824.8,521.7 822.2,529.2 821.0,532.0" stroke="#fad96c" stroke-width="3.0" fill="none" stroke-linecap="round" transform="translate(0,-2.0)"/>
<path d="M776.0,506.0 C783.3,505.8 806.3,504.8 820.0,505.0 C833.7,505.2 847.2,507.5 858.0,507.0 C868.8,506.5 880.5,502.8 885.0,502.0" stroke="#fad96c" stroke-width="2.1" fill="none" stroke-linecap="round" transform="translate(0,-1.4)"/>

<path d="M826.0,528.0 C820.0,531.5 805.2,540.5 790.0,549.0 C774.8,557.5 753.8,568.8 735.0,579.0 C716.2,589.2 686.7,604.8 677.0,610.0" stroke="#fad96c" stroke-width="3.9" fill="none" stroke-linecap="round" transform="translate(0,-2.6)"/>
<path d="M812.0,537.0 C813.7,536.0 819.0,532.5 822.0,531.0 C825.0,529.5 828.7,528.5 830.0,528.0" stroke="#fad96c" stroke-width="5.1" fill="none" stroke-linecap="round" transform="translate(0,-3.4)"/>
<path d="M826.0,530.0 C829.0,531.5 835.3,536.3 844.0,539.0 C852.7,541.7 872.3,544.8 878.0,546.0" stroke="#fad96c" stroke-width="2.4" fill="none" stroke-linecap="round" transform="translate(0,-1.6)"/>
<path d="M825.0,584.5 C821.7,584.9 813.2,586.8 805.0,587.0 C796.8,587.2 785.7,585.2 776.0,586.0 C766.3,586.8 754.3,589.7 747.0,592.0 C739.7,594.3 741.2,594.4 732.0,600.0 C722.8,605.6 698.7,621.2 692.0,625.5" stroke="#fad96c" stroke-width="3.3" fill="none" stroke-linecap="round" transform="translate(0,-2.2)"/>













<path d="M745.0,526.0 C743.3,529.2 736.8,537.3 735.0,545.0 C733.2,552.7 733.0,563.5 734.0,572.0 C735.0,580.5 739.8,592.0 741.0,596.0" stroke="#d9961c" stroke-width="9.6" fill="none" stroke-linecap="round" stroke-linejoin="round"/>
<path d="M745.0,526.0 C743.3,529.2 736.8,537.3 735.0,545.0 C733.2,552.7 733.0,563.5 734.0,572.0 C735.0,580.5 739.8,592.0 741.0,596.0" stroke="#f5c234" stroke-width="8.0" fill="none" stroke-linecap="round" stroke-linejoin="round"/>
<path d="M745.0,526.0 C743.3,529.2 736.8,537.3 735.0,545.0 C733.2,552.7 733.0,563.5 734.0,572.0 C735.0,580.5 739.8,592.0 741.0,596.0" stroke="#fad96c" stroke-width="2.4" fill="none" stroke-linecap="round" transform="translate(0,-1.6)"/>
<ellipse cx="981.0" cy="423.0" rx="3.5" ry="6.0" fill="#d7993f" stroke="#e7b25a" stroke-width="1" transform="rotate(-8 981.0 423.0)"/>
<ellipse cx="981.5" cy="451.5" rx="3.2" ry="5.5" fill="#d7993f" stroke="#e7b25a" stroke-width="1" transform="rotate(-8 981.5 451.5)"/>
<ellipse cx="981.5" cy="480.5" rx="3.5" ry="6.0" fill="#d7993f" stroke="#e7b25a" stroke-width="1" transform="rotate(-8 981.5 480.5)"/>
<ellipse cx="982.0" cy="514.0" rx="3.5" ry="6.5" fill="#d7993f" stroke="#e7b25a" stroke-width="1" transform="rotate(-8 982.0 514.0)"/>
<ellipse cx="982.0" cy="549.5" rx="3.0" ry="5.0" fill="#d7993f" stroke="#e7b25a" stroke-width="1" transform="rotate(-8 982.0 549.5)"/>
<ellipse cx="638.5" cy="581.5" rx="6.5" ry="3.6" fill="#d7993f" stroke="#e7b25a" stroke-width="1" transform="rotate(22 638.5 581.5)"/>
<ellipse cx="677.5" cy="610.5" rx="7.0" ry="3.8" fill="#d7993f" stroke="#e7b25a" stroke-width="1" transform="rotate(22 677.5 610.5)"/>
<ellipse cx="692.5" cy="625.5" rx="7.0" ry="3.8" fill="#d7993f" stroke="#e7b25a" stroke-width="1" transform="rotate(22 692.5 625.5)"/>
<ellipse cx="730.5" cy="644.5" rx="6.5" ry="3.6" fill="#d7993f" stroke="#e7b25a" stroke-width="1" transform="rotate(22 730.5 644.5)"/>
<line x1="897.0" y1="415.0" x2="911.0" y2="427.7" stroke="#333" stroke-width="0.9"/>
<line x1="849.0" y1="432.0" x2="858.0" y2="449.0" stroke="#333" stroke-width="0.9"/>
<line x1="884.0" y1="477.0" x2="903.0" y2="468.0" stroke="#333" stroke-width="0.9"/>
<line x1="760.0" y1="530.0" x2="776.0" y2="519.0" stroke="#333" stroke-width="0.9"/>
<line x1="940.7" y1="563.8" x2="948.6" y2="578.4" stroke="#333" stroke-width="0.9"/>
<line x1="879.0" y1="570.5" x2="886.8" y2="592.0" stroke="#333" stroke-width="0.9"/>
<line x1="809.3" y1="558.0" x2="830.6" y2="639.0" stroke="#333" stroke-width="0.9"/>
<line x1="794.7" y1="566.0" x2="816.0" y2="649.0" stroke="#333" stroke-width="0.9"/>
<line x1="777.9" y1="572.8" x2="799.2" y2="660.4" stroke="#333" stroke-width="0.9"/>
<line x1="631.4" y1="551.0" x2="655.0" y2="571.0" stroke="#333" stroke-width="0.9"/>
<line x1="651.6" y1="598.0" x2="687.5" y2="574.5" stroke="#333" stroke-width="0.9"/>
<line x1="657.0" y1="625.0" x2="676.3" y2="612.6" stroke="#333" stroke-width="0.9"/>
<line x1="677.4" y1="639.7" x2="692.0" y2="629.6" stroke="#333" stroke-width="0.9"/>
<line x1="713.4" y1="656.6" x2="728.0" y2="645.4" stroke="#333" stroke-width="0.9"/>
<line x1="728.0" y1="665.6" x2="743.7" y2="652.0" stroke="#333" stroke-width="0.9"/>
<line x1="734.7" y1="671.0" x2="752.7" y2="656.6" stroke="#333" stroke-width="0.9"/>
<text x="866.6" y="409.5" font-size="6.5" textLength="71.8" lengthAdjust="spacingAndGlyphs" letter-spacing="0.5" fill="#1a1a1a" stroke="#1a1a1a" stroke-width="0.25">Dorsal scapular</text>
<text x="866.6" y="416.0" font-size="6.5" textLength="26.4" lengthAdjust="spacingAndGlyphs" letter-spacing="0.5" fill="#1a1a1a" stroke="#1a1a1a" stroke-width="0.25">nerve</text>
<text x="813.0" y="428.2" font-size="6.5" textLength="66.0" lengthAdjust="spacingAndGlyphs" letter-spacing="0.5" fill="#1a1a1a" stroke="#1a1a1a" stroke-width="0.25">Suprascapular</text>
<text x="813.0" y="435.2" font-size="6.5" textLength="26.0" lengthAdjust="spacingAndGlyphs" letter-spacing="0.5" fill="#1a1a1a" stroke="#1a1a1a" stroke-width="0.25">nerve</text>
<text x="871.0" y="482.8" font-size="6.5" textLength="49.4" lengthAdjust="spacingAndGlyphs" letter-spacing="0.5" fill="#1a1a1a" stroke="#1a1a1a" stroke-width="0.25">Subclavius</text>
<text x="871.0" y="489.6" font-size="6.5" textLength="25.8" lengthAdjust="spacingAndGlyphs" letter-spacing="0.5" fill="#1a1a1a" stroke="#1a1a1a" stroke-width="0.25">nerve</text>
<text x="963.0" y="427.8" font-size="6.5" textLength="10.0" lengthAdjust="spacingAndGlyphs" letter-spacing="0.5" fill="#1a1a1a" stroke="#1a1a1a" stroke-width="0.25">C5</text>
<text x="963.0" y="453.2" font-size="6.5" textLength="10.6" lengthAdjust="spacingAndGlyphs" letter-spacing="0.5" fill="#1a1a1a" stroke="#1a1a1a" stroke-width="0.25">C6</text>
<text x="963.0" y="484.2" font-size="6.5" textLength="10.0" lengthAdjust="spacingAndGlyphs" letter-spacing="0.5" fill="#1a1a1a" stroke="#1a1a1a" stroke-width="0.25">C7</text>
<text x="963.0" y="519.2" font-size="6.5" textLength="10.0" lengthAdjust="spacingAndGlyphs" letter-spacing="0.5" fill="#1a1a1a" stroke="#1a1a1a" stroke-width="0.25">C8</text>
<text x="963.0" y="550.2" font-size="6.5" textLength="9.7" lengthAdjust="spacingAndGlyphs" letter-spacing="0.5" fill="#1a1a1a" stroke="#1a1a1a" stroke-width="0.25">T1</text>
<text x="748.0" y="532.9" font-size="6.5" textLength="31.0" lengthAdjust="spacingAndGlyphs" letter-spacing="0.5" fill="#1a1a1a" stroke="#1a1a1a" stroke-width="0.25">Lateral</text>
<text x="748.0" y="540.6" font-size="6.5" textLength="37.0" lengthAdjust="spacingAndGlyphs" letter-spacing="0.5" fill="#1a1a1a" stroke="#1a1a1a" stroke-width="0.25">pectoral</text>
<text x="748.0" y="547.2" font-size="6.5" textLength="25.0" lengthAdjust="spacingAndGlyphs" letter-spacing="0.5" fill="#1a1a1a" stroke="#1a1a1a" stroke-width="0.25">nerve</text>
<text x="898.0" y="584.2" font-size="6.5" textLength="93.3" lengthAdjust="spacingAndGlyphs" letter-spacing="0.5" fill="#1a1a1a" stroke="#1a1a1a" stroke-width="0.25">Long thoracic nerve</text>
<text x="886.8" y="597.2" font-size="6.5" textLength="101.1" lengthAdjust="spacingAndGlyphs" letter-spacing="0.5" fill="#1a1a1a" stroke="#1a1a1a" stroke-width="0.25">Medial pectoral nerve</text>
<text x="831.8" y="645.2" font-size="6.5" textLength="116.8" lengthAdjust="spacingAndGlyphs" letter-spacing="0.5" fill="#1a1a1a" stroke="#1a1a1a" stroke-width="0.25">Upper subscapular nerve</text>
<text x="816.0" y="655.2" font-size="6.5" textLength="95.5" lengthAdjust="spacingAndGlyphs" letter-spacing="0.5" fill="#1a1a1a" stroke="#1a1a1a" stroke-width="0.25">Thoracodorsal nerve</text>
<text x="801.4" y="665.2" font-size="6.5" textLength="118.0" lengthAdjust="spacingAndGlyphs" letter-spacing="0.5" fill="#1a1a1a" stroke="#1a1a1a" stroke-width="0.25">Lower subscapular nerve</text>
<text x="561.7" y="549.2" font-size="6.5" textLength="115.7" lengthAdjust="spacingAndGlyphs" letter-spacing="0.5" fill="#1a1a1a" stroke="#1a1a1a" stroke-width="0.25">Musculocutaneous nerve</text>
<text x="583.0" y="599.8" font-size="6.5" textLength="64.0" lengthAdjust="spacingAndGlyphs" letter-spacing="0.5" fill="#1a1a1a" stroke="#1a1a1a" stroke-width="0.25">Axillary nerve</text>
<text x="594.0" y="626.2" font-size="6.5" textLength="57.6" lengthAdjust="spacingAndGlyphs" letter-spacing="0.5" fill="#1a1a1a" stroke="#1a1a1a" stroke-width="0.25">Radial nerve</text>
<text x="610.0" y="642.8" font-size="6.5" textLength="63.0" lengthAdjust="spacingAndGlyphs" letter-spacing="0.5" fill="#1a1a1a" stroke="#1a1a1a" stroke-width="0.25">Median nerve</text>
<text x="653.8" y="658.2" font-size="6.5" textLength="55.1" lengthAdjust="spacingAndGlyphs" letter-spacing="0.5" fill="#1a1a1a" stroke="#1a1a1a" stroke-width="0.25">Ulnar nerve</text>
<text x="560.6" y="667.2" font-size="6.5" textLength="162.9" lengthAdjust="spacingAndGlyphs" letter-spacing="0.5" fill="#1a1a1a" stroke="#1a1a1a" stroke-width="0.25">Medial cutaneous nerve of forearm</text>
<text x="587.6" y="674.9" font-size="6.5" textLength="143.7" lengthAdjust="spacingAndGlyphs" letter-spacing="0.5" fill="#1a1a1a" stroke="#1a1a1a" stroke-width="0.25">Medial cutaneous nerve of arm</text>
<text x="857.5" y="466.3" font-size="7.3" textLength="55.0" lengthAdjust="spacingAndGlyphs" letter-spacing="0.5" fill="#1a1a1a" stroke="#1a1a1a" stroke-width="0.25" transform="rotate(-20 885.0 463.5)">Upper trunk</text>
<text x="875.5" y="499.8" font-size="7.3" textLength="56.0" lengthAdjust="spacingAndGlyphs" letter-spacing="0.5" fill="#1a1a1a" stroke="#1a1a1a" stroke-width="0.25" transform="rotate(-20 903.5 497.0)">Middle trunk</text>
<text x="734.5" y="517.6" font-size="7.3" textLength="54.0" lengthAdjust="spacingAndGlyphs" letter-spacing="0.5" fill="#1a1a1a" stroke="#1a1a1a" stroke-width="0.25" transform="rotate(-27 761.5 514.8)">Lateral cord</text>
<text x="756.3" y="551.8" font-size="7.3" textLength="62.0" lengthAdjust="spacingAndGlyphs" letter-spacing="0.5" fill="#1a1a1a" stroke="#1a1a1a" stroke-width="0.25" transform="rotate(-28 787.3 549.0)">Posterior cord</text>
<text x="816.8" y="574.4" font-size="7.3" textLength="50.0" lengthAdjust="spacingAndGlyphs" letter-spacing="0.5" fill="#1a1a1a" stroke="#1a1a1a" stroke-width="0.25" transform="rotate(-27 841.8 571.6)">Medial cord</text>
<text x="878.8" y="541.8" font-size="7.3" textLength="55.0" lengthAdjust="spacingAndGlyphs" letter-spacing="0.5" fill="#1a1a1a" stroke="#1a1a1a" stroke-width="0.25" transform="rotate(-24 906.3 539.0)">Lower trunk</text>
</g>
</svg>
</body></html>
